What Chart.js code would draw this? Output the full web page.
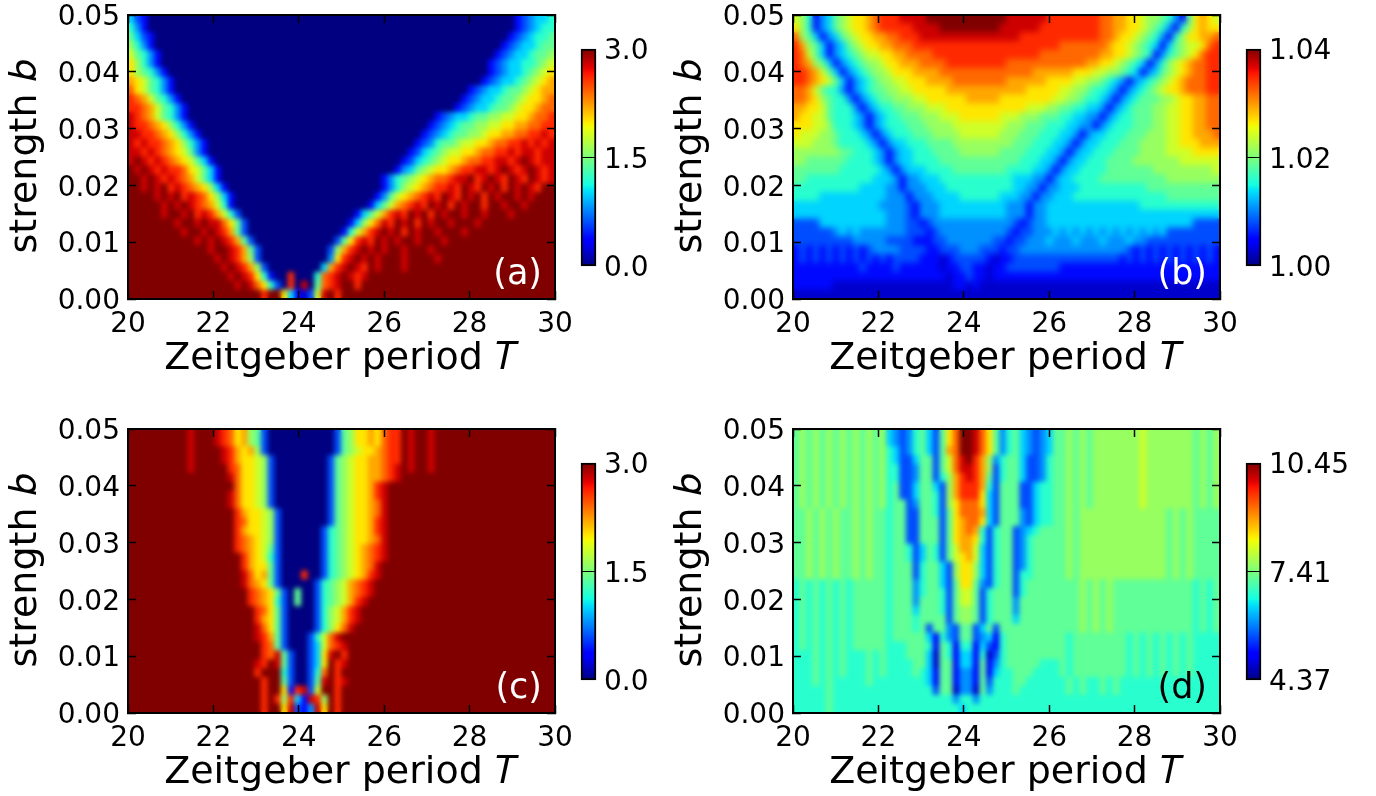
<!DOCTYPE html>
<html><head><meta charset="utf-8">
<style>html,body{margin:0;padding:0;background:#fff;width:1376px;height:796px;overflow:hidden}canvas{position:absolute;display:block}</style>
<script src="https://cdn.jsdelivr.net/npm/chart.js@4/dist/chart.umd.min.js"></script>
</head><body>
<script>
// Cell values, 64 columns x 32 rows, top row first.
// Each character is a level 0-f (0 = colour-scale minimum, f = maximum); "x*n" repeats x n times.
const rowsA = [
"532 0*55 234556","642 0*55 234566","7532 0*53 2345667","8642 0*52 23455677",
"97642 0*50 234556778","a8642 0*49 2345566789","a87642 0*48 234556789a","ba97642 0*46 234556789ab",
"ca97642 0*44 2345567789abb","dcb97642 0*42 2345567789aabc","ddcb97642 0*40 2345567789aabcc","edcb97642 0*37 234556778899aabccd",
"eddcba8642 0*35 2345677889 9aabbccdd","eeddcba8642 0*33 2345677889aabbccdded","ededdcba8642 0*31 234677899aabccddedede","eededcba9742 0*30 23567899aabccddedeedee",
"efededcba9752 0*28 2356789aabccddeedefedee","fefededdca9752 0*26 245789aabcddeedefedefede","ffefededcb9752 0*24 246789abccdeefdefedfedfede","ffefefdedcba852 0*23 24689abcddedfedfefdfefedff",
"ffffefefdedca852 0*21 2479abcdedfedfefdfeffefefff","fffffefefedcb962 0*20 2579bcdedfefdfeffdffeffeffff","fffffeffefdedb963 0*17 2579bdedfe fdfeffeffe fffeffffff","f*7 effefeeca73 0*15 258acedfef dfeffefffe f*11",
"f*8 effefedb73 0*14 269bdefefd feffefffef f*12","f*10 efefedb73 0*12 37adedfefe ffefffefff f*13","f*12 effedb73 0*10 38bdefefef fefffeffff f*14","f*12 fefedb83 0*10 4adefefeff feffffefff f*14",
"f*13 fefedb83 0*8 5bdefedfef ffefffffff f*15","f*14 fefeda62 00d000 6cdefedeff f*26","f*15 fefeca63 0d0e0 7cdeffdf f*28","f*20 dffa 5213 9efd f*32"
];
const rowsB = [
"986 2 45789aabcddd eeee f*12 e*6 d*8 ccbbaa98 8764 2 7aba9",
"a86 2 45789aabcdd dddeeee f*9 e*6 d*9 ccbbaa98764 2 68abaa",
"c875 2 4578 9aabbc cddd e*15 d*12 ccbaa98764 2 68aabbc",
"db875 2 45789aabbc ccddd d*14 ddddd c*7 baa98765 2 57899acd",
"dc975 2 4567899aabb ccccd d*11 ddddc c*8 bbaa9876 2 46789acdd",
"dcb875 2 4567889aabb bcccc d*9 c*12 bbaa98765 2 4689abccdd",
"ddcb975 2 4567889aaab bbbccc c*8 cccbbbbbb aaa9988765 2 45789abccdd",
"ddcba975 2 45678899aaa bbbbccc cccc cbbbbb baaaa99887654 2 456789abcccdd",
"ccb97664 2 456778899aaa aabbb b*6 bbbaa aaa998876654 2 456789aabcccdd",
"ccba87664 2 4567788899aa aaaabbbbbaa aaaaa a998876654 2 456777889aabbcc",
"bbaa976664 2 456677888999 a*12 999887766554 2 4567778899aabbcc",
"baa99766654 2 456677788899 9aaaaaa9 99888777665544 2 45667778899aabbcc",
"aaa99866654 2 4566677788889 999999 98887776665544 2 456667778899aabbcc",
"a99988766654 2 45666777888 899999988 8777666554 2 455666777888 99aabbbc",
"9998887666654 2 45566677778 8888888 8777666554 2 4556667778888 99aaabbb",
"8*7 7766654 2 4556667777 888888 7777666554 2 45566677778888 9999aaaa",
"88777777666654 2 4556666777 777777 777666554 2 4556667777 8888888 999999",
"7*7 666666 54 2 4555666677 7777 776666554 2 4556666777 7777888 8888889",
"77 6666666666 5554 2 4455566666 6666 6655544 2 4556666 7777777 77788888888",
"6666666666 5555 44 2 4445556666 6666 665544 2 4455566 66666666 77777777777",
"6666 555555555 5444 2 444555566 66 6655544 2 4455566 66666666 666677777777",
"5*13 44443 2 44455555 5555 5444 2 445555 5*10 666666666666",
"5*14 4443 2 4445555555555444 2 44555 5*23",
"3*4 5*10 44433 2 3 4*12 3 2 344 5*22 3*4",
"3*6 45454 4444 4433 3 2 344444444443 2 3344 454545454545454545 3*8",
"3*9 44444 3333 22 2 33444444433 2 3344 4544454445444544 3*11",
"232323232323 444433332 2 333444333 2 3344 4*12 44 32323232323232",
"232323232323232 3333222 1 2333332 1 2233 3*14 232323232323232",
"2*10 3 2*4 3 2*6 1 223322 1 22 3*8 2*24",
"2*23 1 22322 1 2*34",
"2*6 1*17 1 2212 1 1*35",
"1*64"
];
const rowsC = [
"f*9 e f*3 edcab87 3 0*10 3 78aabacdd f e ff e f*18",
"f*9 e f*3 edcab87 3 0*10 3 78aabacdd f e ff e f*18",
"f*9 e f*3 fedbab8 3 0*10 3 789aabcdd f e ff e f*18",
"f*9 e f*4 edbaa98 3 0*8 3 789aabbcdd f e ff e f*18",
"f*9 e f*4 fdcaa98 3 0*8 3 789aabbcde f e ff e f*18",
"f*14 fecaa98 3 0*8 3 789aabbcde f*23",
"f*14 ffcaa98 3 0*8 3 789aabde f*25",
"f*14 fecaa98 3 0*8 3 789aabde f*25",
"f*15 ecaa98 3 0*8 3 789aabce f*25",
"f*16 dbaa98 3 0*7 3 789aabce f*25",
"f*16 dcaa98 3 0*7 3 789aabde f*25",
"f*16 dbaa98 3 0*6 3 6789aabde f*25",
"f*16 dcba98 3 0*6 3 6789aabce f*25",
"f*16 dcba97 3 0*6 3 6789abcde f*25",
"f*17 dba96 3 0*6 3 6789abcde f*25",
"f*17 dbaa7 3 0*6 3 6789abcef f*25",
"f*17 ecab7 3 000 d 00 3 6789abdef f*25",
"f*17 ecba7 3 0*5 3 6789bcdef f*26",
"f*18 dcba7 3 0 7 00 3 6789bcdef f*26",
"f*18 dcba6 3 0 7 00 3 6789bdeff f*26",
"f*19 dca7 3 0*4 3 689bdefff f*26",
"f*19 dba7 3 0*4 3 689bdefff f*26",
"f*19 eca7 3 0*4 3 68acefff f*27",
"f*19 edb7 3 000 3 69cefff f*29",
"f*20 dc7 3 000 3 59cdeff f*29",
"f*20 dce7 3003 5aefdff f*29",
"f*19 edfe7 3003 5afdeff f*29",
"f*19 dfff6 3003 6cfdf f*31",
"f*20 dff7 3003 7efde f*31",
"f*20 dffa 2de3 9ffdf f*31",
"f*20 dfd8 d52e d8fd f*32",
"f*20 dffa e324 eafd f*32"
];
const rowsD = [
"78787878787878 54346753 7acffeca7 467543457 787878888888988888887878",
"78787878787878 54346753 7acffeca7 467543457 787878888888988888887878",
"78787878787878 65346753 7bcffeca7 467543457 787878888888988888887878",
"78787878787878 65335773 79cefdb8 4677533467 787878888888988888887878",
"78787878787878 66334773 79ceedb8 3677533467 787878888888988888887878",
"78787878787878 66334773 68bdedb7 3677533467 787878888888988888887878",
"78787878787878 67335775 38bdddb6 3777335667 787878888888988888887878",
"78787878787878 67335776 38bddda5 3777335667 787878888888988888887878",
"78787878787878 67734776 38accca5 3777335667 787878888888988888887878",
"77878787787877 67733776 37acccb5 3777435667 787888888888888878787777",
"77878787787877 67733777 37abcca5 3777435667 787888888888888878787777",
"77878787787877 67733777 37abcb63 6773456777 787888888888888878787777",
"77878787787877 67733777 37abba63 6773467777 787888888888888878787777",
"77878787787877 67763576 379bb953 6773467777 787888888888888878787777",
"77878787787877 67763576 379ab953 6773467777 787888888888888878787777",
"77878787787877 67773677 538aa853 6773467777 787888888888888878787777",
"77878787787877 67773677 538aa853 6773667777 787888888888888878787777",
"67676767677777 67774677 537aa743 6773677777 777878787777777777776767",
"67676767677777 67774677 63799736 7773677777 777878787777777777776767",
"67676767677777 67774777 63799736 7774777777 777878787777777777776767",
"67676767677777 67775777 63788736 7774777777 777878787777777777776767",
"67676767677777 67776777 73788736 7775777777 777878787777777777776767",
"67676767677777 67776737 74377357 3777777777 777878787777777777776767",
"67676767677777 67777752 64377345 2677777777 767777777767676767676666",
"67676767677777 66677762 76266253 2677777777 767777777767676767676666",
"66676767666767 66677751 76255261 3677777777 767777777767676767676666",
"66676767666767 66667751 77255272 4677777666 767777777767676767676666",
"66676767666767 66667652 77244272 5667776666 767777777767676767676666",
"66676766666766 66666652 77244273 6667766666 676766767666666666666666",
"66666766666666 66666663 77144174 6667666666 676766767666666666666666",
"66666766666666 66666666 66466466 6666666666 666666666666666666666666",
"66666766666666 66666666 66656666 6666666666 666666666666666666666666"
];
const periodTicks = [20, 22, 24, 26, 28, 30];
const strengthTicks = [0, 0.01, 0.02, 0.03, 0.04, 0.05];
const barTicksA = [0, 1.5, 3];
const barTicksB = [1, 1.02, 1.04];
const barTicksC = [0, 1.5, 3];
const barTicksD = [4.37, 7.41, 10.45];
// matplotlib "jet" colour map anchors: [position, channel value]
const jetRed = [[0,0],[0.35,0],[0.66,1],[0.89,1],[1,0.5]];
const jetGreen = [[0,0],[0.125,0],[0.375,1],[0.64,1],[0.91,0],[1,0]];
const jetBlue = [[0,0.5],[0.11,1],[0.34,1],[0.65,0],[1,0]];
const FONT = '"DejaVu Sans"';
const TICK_PX = 28, TITLE_PX = 38;

function chan(tbl, t){
  for (let i = 1; i < tbl.length; i++) {
    if (t <= tbl[i][0]) {
      const f = (t - tbl[i-1][0]) / (tbl[i][0] - tbl[i-1][0]);
      return Math.round(255 * (tbl[i-1][1] + f * (tbl[i][1] - tbl[i-1][1])));
    }
  }
  return Math.round(255 * tbl[tbl.length-1][1]);
}
function jet(t){
  t = Math.max(0, Math.min(1, t));
  return `rgb(${chan(jetRed,t)},${chan(jetGreen,t)},${chan(jetBlue,t)})`;
}
function decode(row){
  const s = row.split(' ').map(tok => tok.includes('*') ? tok[0].repeat(+tok.slice(2)) : tok).join('');
  return s.padEnd(64, s[s.length-1]).slice(0, 64);
}
function mk(left, top, w, h){
  const c = document.createElement('canvas');
  c.width = w; c.height = h;
  c.style.left = left + 'px'; c.style.top = top + 'px';
  c.style.width = w + 'px'; c.style.height = h + 'px';
  document.body.appendChild(c);
  return c;
}
function noPad(s){ s.paddingLeft = s.paddingRight = s.paddingTop = s.paddingBottom = 0; }
function frameAxis(pos, min, max, ticks, fixed, extra){
  return Object.assign({
    type: 'linear', position: pos, min, max, offset: false,
    afterBuildTicks: s => { s.ticks = ticks.map(v => ({value: v})); },
    afterFit: s => { if (s.isHorizontal()) s.height = fixed; else s.width = fixed; noPad(s); },
    border: {display: true, color: '#000', width: 2, z: 2},
    grid: {display: true, offset: false, drawOnChartArea: false, drawTicks: true, tickLength: -8, tickColor: '#000', tickWidth: 1.5, color: '#000', z: 1},
    ticks: {display: false}
  }, extra || {});
}
// imshow-style display smoothing of the drawn cells (the data stays as read)
function smooth(sigma){ return {id: 'smooth', afterDatasetsDraw(ch){
  const a = ch.chartArea, w = Math.round(a.right - a.left), h = Math.round(a.bottom - a.top);
  const off = document.createElement('canvas'); off.width = w; off.height = h;
  off.getContext('2d').drawImage(ch.canvas, a.left, a.top, w, h, 0, 0, w, h);
  const g = ch.ctx; g.save();
  g.beginPath(); g.rect(a.left, a.top, w, h); g.clip();
  g.filter = `blur(${sigma}px)`;
  g.drawImage(off, a.left, a.top);
  g.restore();
}}; }
function heatPanel(left, top, rows, min, max, tag, tagColor, sigma){
  const H = top ? 382 : 400;
  const cells = [], colors = [];
  rows.map(decode).forEach((row, r) => {
    const hi = 0.05 * (1 - r / rows.length), lo = 0.05 * (1 - (r + 1) / rows.length);
    [...row].forEach((ch, c) => {
      const lev = parseInt(ch, 16) / 15;
      cells.push({x: 20 + (c + 0.5) * 10 / row.length, y: [lo, hi], v: min + lev * (max - min)});
      colors.push(jet(lev));
    });
  });
  new Chart(mk(left, top, 580, H), {
    type: 'bar',
    data: {datasets: [{data: cells, backgroundColor: colors, borderWidth: 0, barPercentage: 1, categoryPercentage: 1, inflateAmount: 0.5}]},
    plugins: [smooth(sigma), {id: 'tag', afterDraw(ch){
      const g = ch.ctx; g.save();
      g.font = `35px ${FONT}`; g.fillStyle = tagColor; g.textAlign = 'right'; g.textBaseline = 'alphabetic';
      g.fillText(tag, ch.chartArea.right - 13, ch.chartArea.bottom - 15);
      g.restore();
    }}],
    options: {
      responsive: false, animation: false, devicePixelRatio: 1,
      layout: {autoPadding: false, padding: 0},
      plugins: {legend: {display: false}, tooltip: {enabled: false}, title: {display: false}},
      scales: {
        x: frameAxis('bottom', 20, 30, periodTicks, H - 299, {
          ticks: {display: true, padding: 17, color: '#000', maxRotation: 0, font: {family: FONT, size: TICK_PX}, callback: v => String(v)},
          title: {display: true, text: 'Zeitgeber period 𝑇', color: '#000', font: {family: FONT, size: TITLE_PX}, padding: {top: 0, bottom: top ? 0 : 18}}
        }),
        y: frameAxis('left', 0, 0.05, strengthTicks, 128, {
          ticks: {display: true, padding: 16, labelOffset: 3, color: '#000', font: {family: FONT, size: TICK_PX}, callback: v => v.toFixed(2)},
          title: {display: true, text: 'strength 𝑏', color: '#000', font: {family: FONT, size: TITLE_PX}, padding: {top: 3, bottom: 0}}
        }),
        x2: frameAxis('top', 20, 30, periodTicks, 15),
        y2: frameAxis('right', 0, 0.05, strengthTicks, 25)
      }
    }
  });
}
function colorBar(left, top, ticks, digits){
  const W = 141;
  const min = ticks[0], max = ticks[ticks.length-1];
  new Chart(mk(left, top, W, 250), {
    type: 'bar',
    data: {datasets: [{
      data: [{x: 0.5, y: [min, max]}], barPercentage: 1, categoryPercentage: 1, clip: false,
      borderColor: '#000', borderWidth: 2, borderSkipped: false,
      backgroundColor: c => {
        const a = c.chart.chartArea; if (!a) return '#000';
        const g = c.chart.ctx.createLinearGradient(0, a.bottom, 0, a.top);
        for (let i = 0; i <= 64; i++) g.addColorStop(i / 64, jet(i / 64));
        return g;
      }
    }]},
    options: {
      responsive: false, animation: false, devicePixelRatio: 1,
      layout: {autoPadding: false, padding: {left: 11, top: 19, bottom: 14, right: 0}},
      plugins: {legend: {display: false}, tooltip: {enabled: false}},
      scales: {
        x: {type: 'linear', min: 0, max: 1, display: false, offset: false, afterFit: noPad},
        y: {type: 'linear', position: 'right', min, max,
          afterBuildTicks: s => { s.ticks = ticks.map(v => ({value: v})); },
          afterFit: s => { s.width = W - 26; noPad(s); },
          border: {display: false},
          grid: {display: true, drawOnChartArea: true, drawTicks: false, color: '#000',
                 lineWidth: c => (c.tick && c.tick.value === ticks[1]) ? 1 : 0, z: 1},
          ticks: {display: true, padding: 8, labelOffset: 3, color: '#000', font: {family: FONT, size: TICK_PX}, callback: v => v.toFixed(digits)}
        }
      }
    }
  });
}
heatPanel(0, 0, rowsA, 0, 3, '(a)', '#fff', 2.4);
heatPanel(665, 0, rowsB, 1, 1.04, '(b)', '#fff', 3);
heatPanel(0, 414, rowsC, 0, 3, '(c)', '#fff', 2.4);
heatPanel(665, 414, rowsD, 4.37, 10.45, '(d)', '#000', 2.6);
colorBar(570, 30, barTicksA, 1);
colorBar(1235, 30, barTicksB, 2);
colorBar(570, 444, barTicksC, 1);
colorBar(1235, 444, barTicksD, 2);
</script>
</body></html>
